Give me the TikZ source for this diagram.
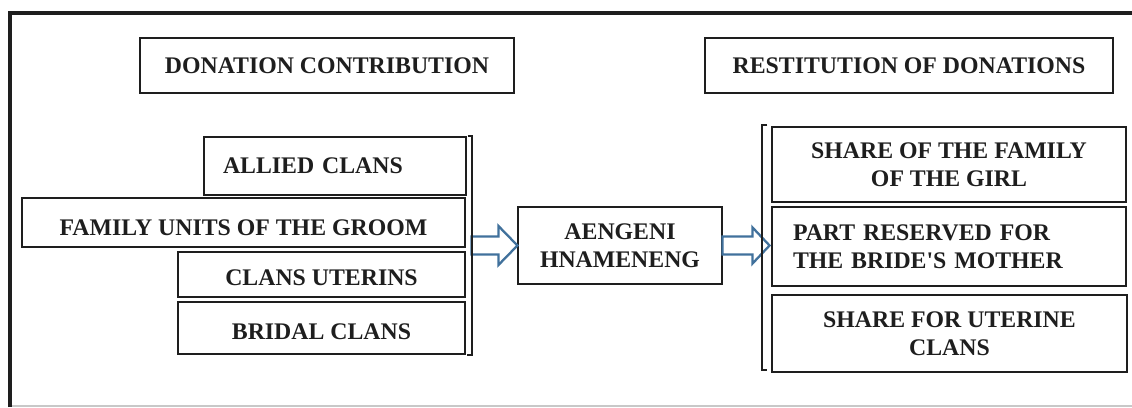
\documentclass[tikz,border=0pt]{standalone}
\usepackage{fontspec}
\setmainfont{Liberation Serif}
\usetikzlibrary{calc}
\definecolor{arrowblue}{RGB}{65,113,156}
\definecolor{framegray}{RGB}{200,200,200}
\definecolor{ink}{RGB}{30,30,30}
\begin{document}
\begin{tikzpicture}[x=1pt,y=-1pt,
  box/.style={draw=ink, line width=1.1pt, inner sep=0pt,
    font=\fontsize{23.8}{28}\selectfont\bfseries, text=ink},
  capshift/.style={text height=#1, text depth=0pt},
  brk/.style={draw=ink, line width=2pt},
  barrow/.style={draw=arrowblue, fill=white, line width=2.3pt, line join=miter},
  frame/.style={draw=ink, line width=4pt}
]
\useasboundingbox (0,0) rectangle (1132,407);
% outer frame
\draw[frame] (10,407) -- (10,12.5) -- (1132,12.5);
\draw[framegray, line width=1.5pt] (12,406) -- (1132,406);

% headings
\node[box, minimum width=374pt, minimum height=55pt] (don) at (327,65.5) {DONATION CONTRIBUTION};
\node[box, minimum width=408pt, minimum height=55pt] (rest) at (909,65.5) {RESTITUTION OF DONATIONS};

% contributing groups
\node[box, minimum height=58pt, text width=224pt, inner xsep=19pt, align=left] (allied) at (335,166) {ALLIED CLANS};
\node[box, minimum width=443pt, minimum height=49pt, capshift=26.6pt] (family) at (243.5,222.5) {FAMILY UNITS OF THE GROOM};
\node[box, minimum width=287pt, minimum height=45pt, capshift=21.6pt] (uter) at (321.5,274.5) {CLANS UTERINS};
\node[box, minimum width=287pt, minimum height=52pt, capshift=23.6pt] (bridal) at (321.5,328) {BRIDAL CLANS};

% central node
\node[box, minimum width=204pt, minimum height=77pt, align=center] (aeng) at (620,245.5) {AENGENI\\HNAMENENG};

% restitution shares
\node[box, minimum width=354pt, minimum height=75pt, align=center] (s1) at (949,164.5) {SHARE OF THE FAMILY\\OF THE GIRL};
\node[box, minimum height=79pt, text width=312pt, inner xsep=21pt, align=left] (s2) at (949,246.5) {PART RESERVED FOR\\THE BRIDE\textquotesingle S MOTHER};
\node[box, minimum width=355pt, minimum height=77pt, align=center] (s3) at (949.5,333.5) {SHARE FOR UTERINE\\CLANS};

% block arrows
\draw[barrow] (aeng.west) -- ++(-19,-19.5) -- ++(0,10.5) -- ++(-27,0) -- ++(0,18) -- ++(27,0) -- ++(0,10.5) -- cycle;
\path (aeng.east) ++(47,0) coordinate (tip2);
\draw[barrow] (tip2) -- ++(-17,-18) -- ++(0,9) -- ++(-30,0) -- ++(0,18) -- ++(30,0) -- ++(0,9) -- cycle;

% brackets
\draw[brk] ([xshift=1pt]allied.north east) -| ([xshift=6pt]bridal.south east) -- ([xshift=1pt]bridal.south east);
\draw[brk] ([xshift=-4pt,yshift=1pt]s1.north west) -| ([xshift=-9pt,yshift=3pt]s3.south west) -- ([xshift=-4pt,yshift=3pt]s3.south west);
\end{tikzpicture}
\end{document}
